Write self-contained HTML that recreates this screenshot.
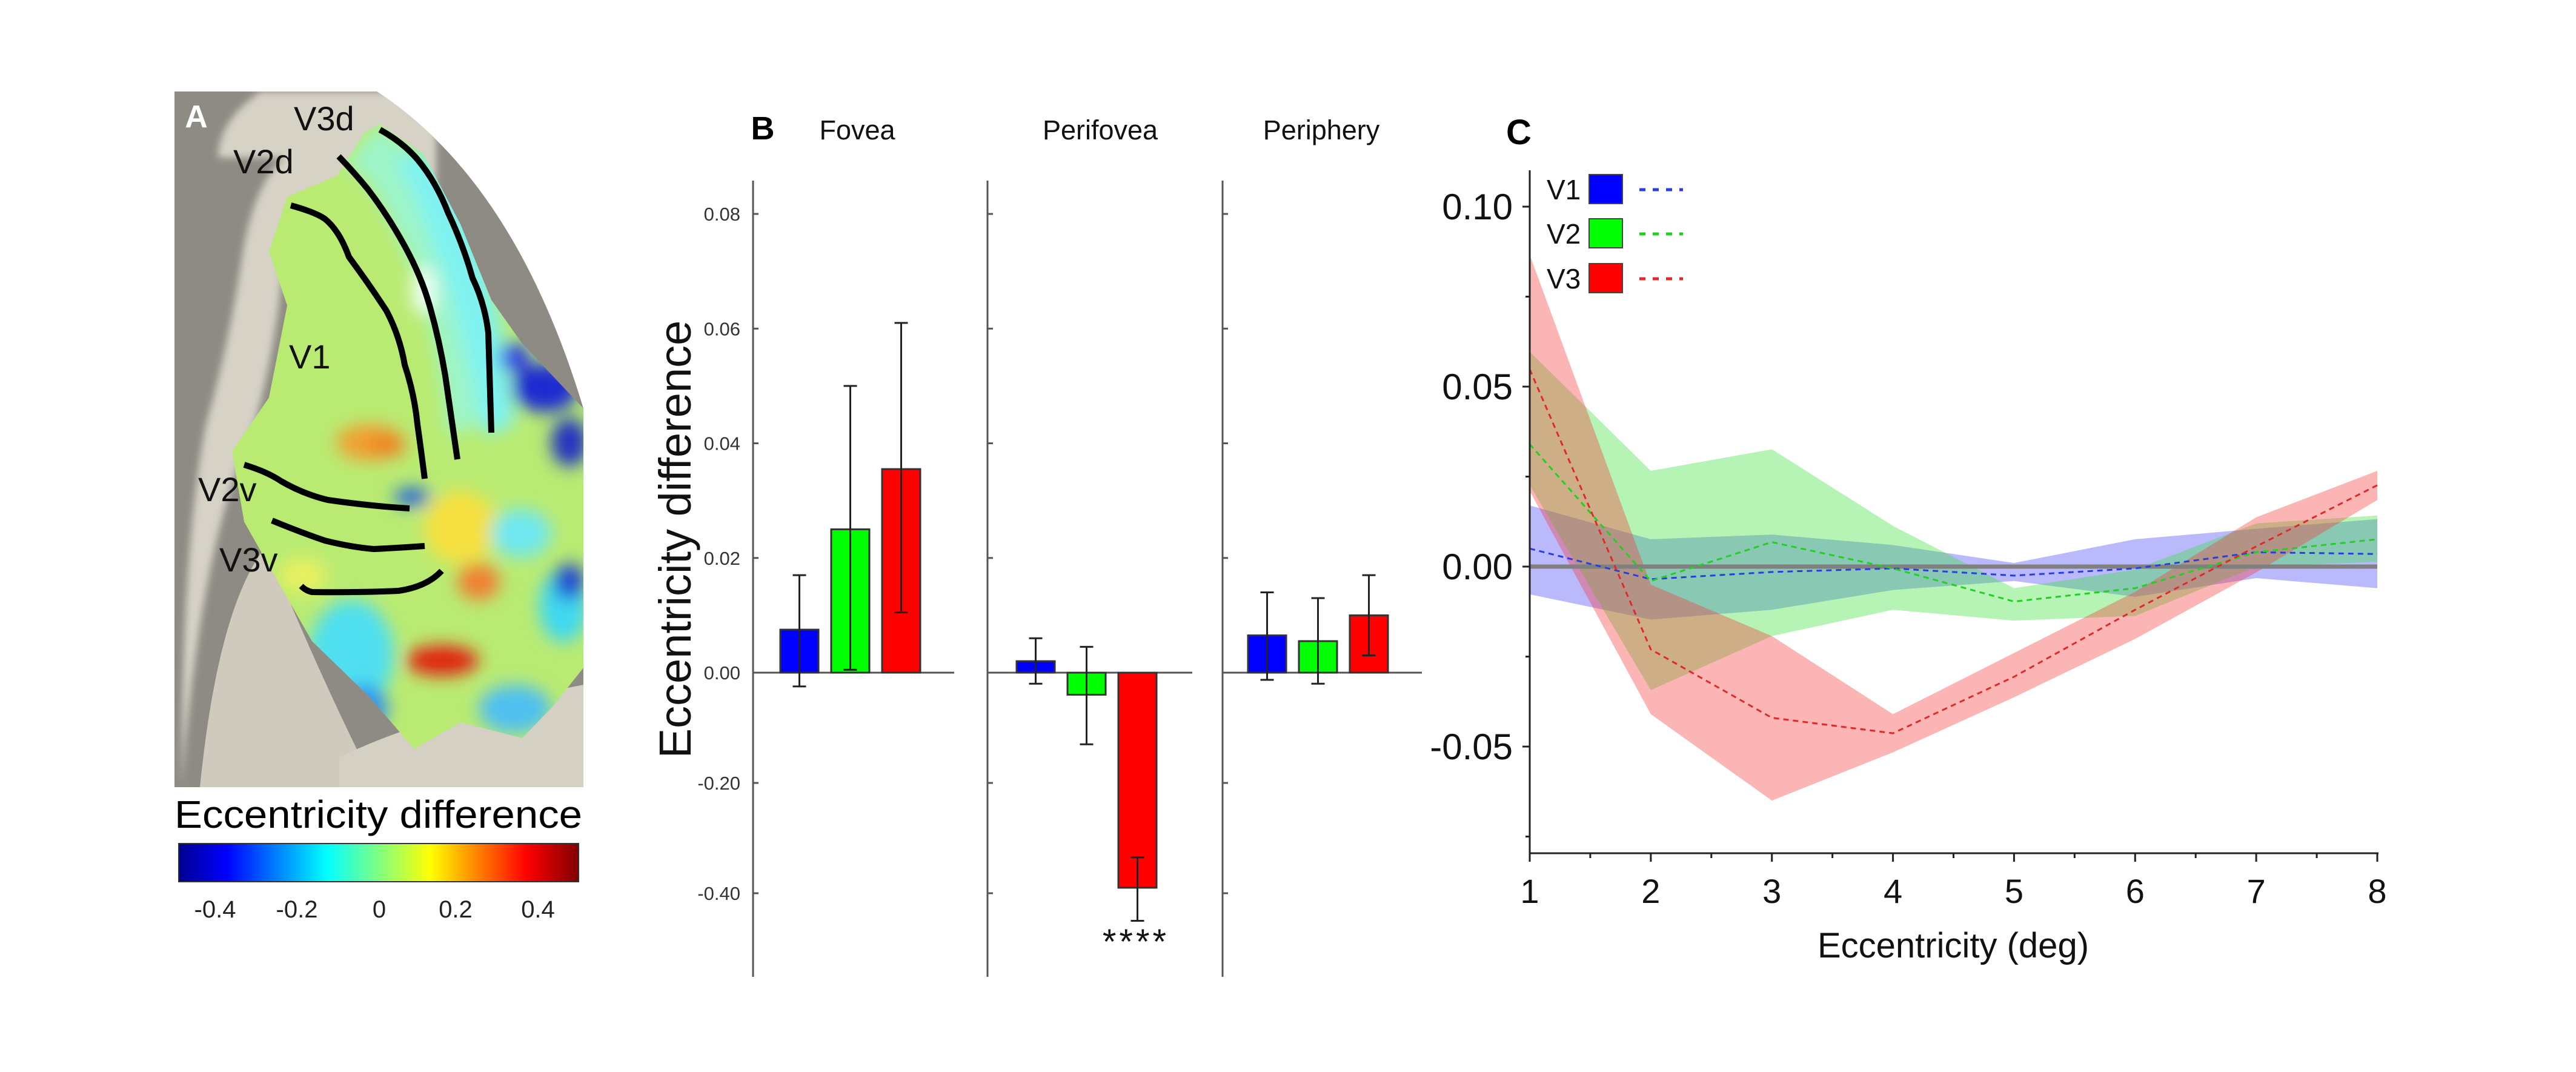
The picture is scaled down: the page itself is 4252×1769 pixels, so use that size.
<!DOCTYPE html>
<html><head><meta charset="utf-8"><style>
html,body{margin:0;padding:0;background:#fff;}
svg{display:block;font-family:"Liberation Sans","DejaVu Sans",sans-serif;}
</style></head><body>
<svg id="fig" width="4252" height="1769" viewBox="0 0 4252 1769" xmlns="http://www.w3.org/2000/svg">
<defs>
<filter id="blur" x="-20%" y="-20%" width="140%" height="140%"><feGaussianBlur stdDeviation="14"/></filter>
<filter id="blur2" x="-20%" y="-20%" width="140%" height="140%"><feGaussianBlur stdDeviation="6"/></filter>
<clipPath id="brainClip"><path d="M288,151 L622,151 Q850,300 963,674 L963,1299 L288,1299 Z"/></clipPath>
<clipPath id="mapClip"><polygon points="474,325 556,290 602,218 627,205 699,254 760,370 811,495 862,567 963,674 963,1102 913,1165 862,1218 760,1192 684,1236 607,1147 515,1058 464,969 403,861 383,745 444,656 474,504 444,415"/></clipPath>
<linearGradient id="jet" x1="0" x2="1" y1="0" y2="0">
<stop offset="0" stop-color="#00008f"/><stop offset="0.12" stop-color="#0000ff"/><stop offset="0.37" stop-color="#00ffff"/><stop offset="0.5" stop-color="#80ff80"/><stop offset="0.63" stop-color="#ffff00"/><stop offset="0.87" stop-color="#ff0000"/><stop offset="1" stop-color="#800000"/>
</linearGradient>
</defs>

<!-- Panel A -->
<g clip-path="url(#brainClip)">
<rect x="288" y="151" width="675" height="1148" fill="#8e8b84"/>
<path d="M300,1299 Q330,900 420,700 Q460,560 470,400 L520,330 Q640,240 720,330 L720,151 L430,151 Q360,200 360,260 L470,260 Q420,300 400,420 Q380,560 340,700 Q300,900 300,1299 Z" fill="#d6d2c6" filter="url(#blur2)"/>
<path d="M330,1299 Q360,1000 440,900 Q520,1100 620,1299 Z" fill="#cfcabd"/>
<path d="M640,151 Q860,300 963,640 L963,560 Q860,280 700,151 Z" fill="#d0ccc0"/>
<path d="M560,1250 Q700,1180 963,1130 L963,1299 L560,1299 Z" fill="#d4d0c4"/>
<g clip-path="url(#mapClip)">
<rect x="380" y="200" width="590" height="1050" fill="#b9eb72"/>
<g filter="url(#blur)">
<path d="M627,205 Q760,300 830,560 L790,700 L740,720 Q720,500 650,380 Q600,260 560,280 Z" fill="#9ef5c8"/>
<path d="M700,250 Q800,360 830,560 L850,700 L800,720 Q760,520 720,420 Q680,300 650,260 Z" fill="#7ff2f0"/>
<ellipse cx="700" cy="480" rx="20" ry="40" fill="#f0fff8"/>
<ellipse cx="900" cy="640" rx="55" ry="40" fill="#1a2ad0"/>
<ellipse cx="850" cy="590" rx="25" ry="25" fill="#3040e0"/>
<ellipse cx="940" cy="730" rx="30" ry="40" fill="#2030c0"/>
<ellipse cx="610" cy="730" rx="55" ry="30" fill="#f0a030"/>
<ellipse cx="640" cy="735" rx="30" ry="18" fill="#f08020"/>
<ellipse cx="760" cy="870" rx="60" ry="60" fill="#f6e040"/>
<ellipse cx="790" cy="960" rx="35" ry="30" fill="#f08030"/>
<ellipse cx="730" cy="1090" rx="60" ry="25" fill="#e02010"/>
<ellipse cx="860" cy="880" rx="50" ry="40" fill="#70e8f0"/>
<ellipse cx="580" cy="1080" rx="70" ry="90" fill="#50dff0"/>
<ellipse cx="600" cy="1170" rx="40" ry="40" fill="#3090f0"/>
<ellipse cx="850" cy="1170" rx="60" ry="40" fill="#50c0f0"/>
<ellipse cx="930" cy="1000" rx="40" ry="60" fill="#40d8f0"/>
<ellipse cx="940" cy="960" rx="25" ry="30" fill="#2040d0"/>
<ellipse cx="500" cy="950" rx="40" ry="30" fill="#e8f060"/>
<ellipse cx="680" cy="820" rx="30" ry="15" fill="#2060e0"/>
</g>
</g>
<g fill="none" stroke="#000" stroke-width="10" stroke-linecap="butt">
<path d="M480,339 Q520,350 536,361 Q560,380 576,424 Q610,470 638,513 Q660,555 668,602 Q684,650 689,700 Q696,750 701,790"/>
<path d="M559,258 Q585,285 607,312 Q640,355 668,406 Q695,455 709,504 Q725,560 735,620 Q745,690 755,758"/>
<path d="M627,214 Q665,235 689,263 Q720,300 740,352 Q765,405 780,459 Q800,500 806,549 L811,714"/>
<path d="M403,767 Q440,778 464,794 Q500,815 541,825 Q610,835 676,839"/>
<path d="M449,859 Q495,878 536,892 Q580,903 617,906 Q660,904 701,901"/>
<path d="M497,967 Q505,975 515,977 Q590,978 658,975 Q705,968 729,942"/>
</g>
</g>
<text x="324" y="210" font-size="52" font-weight="bold" fill="#fff" text-anchor="middle">A</text>
<g font-size="56" fill="#111">
<text x="485" y="215">V3d</text>
<text x="385" y="286">V2d</text>
<text x="477" y="608">V1</text>
<text x="327" y="827">V2v</text>
<text x="362" y="943">V3v</text>
</g>
<text x="288" y="1366" font-size="64" fill="#000" textLength="673" lengthAdjust="spacingAndGlyphs">Eccentricity difference</text>
<rect x="295" y="1392" width="660" height="63" fill="url(#jet)" stroke="#333" stroke-width="2"/>
<g font-size="40" text-anchor="middle" fill="#222">
<text x="355" y="1514">-0.4</text><text x="490" y="1514">-0.2</text><text x="626" y="1514">0</text><text x="752" y="1514">0.2</text><text x="888" y="1514">0.4</text>
</g>

<!-- Panel B -->
<g id="panelB"></g>
<!-- Panel C -->
<g id="panelC"></g>

<script>
// ---------- Panel B data ----------
var bRegions = ["Fovea","Perifovea","Periphery"];
var bSeries = ["V1","V2","V3"];
var bV1 = [0.0075, 0.002, 0.0065];
var bV2 = [0.025, -0.004, 0.0055];
var bV3 = [0.0355, -0.039, 0.010];
var bV1Hi = [0.017, 0.006, 0.014];
var bV1Lo = [-0.0025, -0.002, -0.0013];
var bV2Hi = [0.050, 0.0045, 0.013];
var bV2Lo = [0.0005, -0.013, -0.002];
var bV3Hi = [0.061, -0.0335, 0.017];
var bV3Lo = [0.0105, -0.045, 0.003];
var bTickVals = [0.08, 0.06, 0.04, 0.02, 0, -0.02, -0.04];
var bTickLabels = ["0.08","0.06","0.04","0.02","0.00","-0.20","-0.40"];

// ---------- Panel C data ----------
var cX = [1,2,3,4,5,6,7,8];
var cV1 = [0.005, -0.0035, -0.0015, -0.0005, -0.0025, -0.0005, 0.004, 0.0035];
var cV1Hi = [0.017, 0.0076, 0.0089, 0.006, 0.001, 0.0076, 0.0105, 0.0132];
var cV1Lo = [-0.0077, -0.0147, -0.012, -0.0065, -0.004, -0.0084, -0.0032, -0.006];
var cV2 = [0.034, -0.004, 0.0068, -0.0005, -0.0097, -0.006, 0.004, 0.0076];
var cV2Hi = [0.0597, 0.0266, 0.0326, 0.0113, -0.006, -0.0008, 0.012, 0.0142];
var cV2Lo = [0.0226, -0.0343, -0.0193, -0.012, -0.015, -0.0137, 0.0, 0.0013];
var cV3 = [0.0548, -0.023, -0.042, -0.0463, -0.0306, -0.012, 0.0056, 0.0226];
var cV3Hi = [0.0866, -0.005, -0.0193, -0.041, -0.024, -0.007, 0.0137, 0.0266];
var cV3Lo = [0.021, -0.041, -0.065, -0.0516, -0.0363, -0.0201, -0.0016, 0.0185];
var cYTicks = [0.10, 0.05, 0.00, -0.05];
var cYTickLabels = ["0.10","0.05","0.00","-0.05"];
var cXTickLabels = ["1","2","3","4","5","6","7","8"];
var cLegend = ["V1","V2","V3"];

var NS = "http://www.w3.org/2000/svg";
function mk(parent, tag, attrs, text) {
  var e = document.createElementNS(NS, tag);
  for (var k in attrs) e.setAttribute(k, attrs[k]);
  if (text !== undefined) e.textContent = text;
  parent.appendChild(e);
  return e;
}

// ---------- Draw Panel B ----------
(function(){
  var g = document.getElementById("panelB");
  var zeroY = 1110;
  function y(v){ return v >= 0 ? zeroY - v*9462 : zeroY - v*9100; }
  var axisX = [1243, 1630, 2018];
  var firstBar = [45, 48, 42];
  var baseEnd = [1575, 1968, 2347];
  var bw = 63, step = 84;
  var fills = ["#0000ff","#00ff00","#ff0000"];
  var vals = [bV1, bV2, bV3], his = [bV1Hi, bV2Hi, bV3Hi], los = [bV1Lo, bV2Lo, bV3Lo];
  var t;
  t = mk(g, "text", {x:1259, y:230, "font-size":54, "font-weight":"bold", "text-anchor":"middle"}, "B");
  
  
  var titleX = [1415, 1816, 2181];
  for (var r = 0; r < bRegions.length; r++) {
    t = mk(g, "text", {x:titleX[r], y:230, "font-size":45, "text-anchor":"middle", fill:"#111"}, bRegions[r]);
    
    
    var ax = mk(g, "line", {x1:axisX[r], y1:298, x2:axisX[r], y2:1612, stroke:"#555", "stroke-width":3});
    
    
    for (var i = 0; i < bTickVals.length; i++) {
      var tk = mk(g, "line", {x1:axisX[r], y1:y(bTickVals[i]), x2:axisX[r]+9, y2:y(bTickVals[i]), stroke:"#555", "stroke-width":3});
      
      
      if (r === 0) {
        var tl = mk(g, "text", {x:1222, y:y(bTickVals[i])+11, "font-size":31, "text-anchor":"end", fill:"#333"}, bTickLabels[i]);
        
        
      }
    }
    var bl = mk(g, "line", {x1:axisX[r], y1:zeroY, x2:baseEnd[r], y2:zeroY, stroke:"#555", "stroke-width":3});
    
    
    for (var s = 0; s < 3; s++) {
      var v = vals[s][r];
      var bx = axisX[r] + firstBar[r] + s*step;
      var top = Math.min(y(v), zeroY), h = Math.abs(y(v) - zeroY);
      var bar = mk(g, "rect", {x:bx, y:top, width:bw, height:h, fill:fills[s], stroke:"#333", "stroke-width":3});
      
      
      var cx = bx + bw/2;
      var e1 = mk(g, "path", {d:"M"+cx+","+y(his[s][r])+" L"+cx+","+y(los[s][r])+" M"+(cx-11)+","+y(his[s][r])+" L"+(cx+11)+","+y(his[s][r])+" M"+(cx-11)+","+y(los[s][r])+" L"+(cx+11)+","+y(los[s][r]), stroke:"#222", "stroke-width":3, fill:"none"});
      
      
    }
  }
  t = mk(g, "text", {x:1875, y:1574, "font-size":58, "text-anchor":"middle", fill:"#111", "letter-spacing":"5"}, "****");
  
  
  t = mk(g, "text", {x:0, y:0, "font-size":74, "text-anchor":"middle", fill:"#111", transform:"translate(1140,890) rotate(-90)"}, "Eccentricity difference");
  
  
})();

// ---------- Draw Panel C ----------
(function(){
  var g = document.getElementById("panelC");
  var x0 = 2525, pxX = (3924-2525)/7;
  var zeroY = 935, pxY = 5940;
  function X(v){ return x0 + (v-1)*pxX; }
  function Y(v){ return zeroY - v*pxY; }
  var t;
  t = mk(g, "text", {x:2507, y:238, "font-size":58, "font-weight":"bold", "text-anchor":"middle"}, "C");
  
  

  var bandFill = ["rgba(70,70,245,0.38)","rgba(60,225,60,0.38)","rgba(245,60,60,0.38)"];
  var lineCol = ["#2a3ee0","#22d022","#e02a2a"];
  var means = [cV1, cV2, cV3], his = [cV1Hi, cV2Hi, cV3Hi], los = [cV1Lo, cV2Lo, cV3Lo];
  for (var s = 0; s < 3; s++) {
    var d = "";
    for (var i = 0; i < cX.length; i++) d += (i ? " L" : "M") + X(cX[i]) + "," + Y(his[s][i]);
    for (var j = cX.length-1; j >= 0; j--) d += " L" + X(cX[j]) + "," + Y(los[s][j]);
    var band = mk(g, "path", {d:d+" Z", fill:bandFill[s], stroke:"none"});
    
    
  }
  var zl = mk(g, "line", {x1:x0, y1:Y(0), x2:X(8), y2:Y(0), stroke:"#808080", "stroke-width":7});
  
  
  for (var s2 = 0; s2 < 3; s2++) {
    var pts = [];
    for (var k = 0; k < cX.length; k++) pts.push(X(cX[k]) + "," + Y(means[s2][k]));
    var ln = mk(g, "polyline", {points:pts.join(" "), fill:"none", stroke:lineCol[s2], "stroke-width":3, "stroke-dasharray":"9,7"});
    
    
  }
  var ya = mk(g, "line", {x1:x0, y1:281, x2:x0, y2:1408, stroke:"#222", "stroke-width":3});
  
  
  var xa = mk(g, "line", {x1:x0, y1:1408, x2:X(8)+2, y2:1408, stroke:"#222", "stroke-width":3});
  
  
  for (var i2 = 0; i2 < cYTicks.length; i2++) {
    var yy = Y(cYTicks[i2]);
    var tk = mk(g, "line", {x1:x0-12, y1:yy, x2:x0, y2:yy, stroke:"#222", "stroke-width":3});
    
    
    var mt = mk(g, "line", {x1:x0-7, y1:Y(cYTicks[i2]-0.025), x2:x0, y2:Y(cYTicks[i2]-0.025), stroke:"#222", "stroke-width":3});
    
    
    var tl = mk(g, "text", {x:x0-28, y:yy+21, "font-size":60, "text-anchor":"end", fill:"#111"}, cYTickLabels[i2]);
    
    
  }
  for (var i3 = 0; i3 < cX.length; i3++) {
    var xx = X(cX[i3]);
    var xt = mk(g, "line", {x1:xx, y1:1408, x2:xx, y2:1422, stroke:"#222", "stroke-width":3});
    
    
    if (i3 < cX.length-1) {
      var xm = mk(g, "line", {x1:X(cX[i3]+0.5), y1:1408, x2:X(cX[i3]+0.5), y2:1416, stroke:"#222", "stroke-width":3});
      
      
    }
    var xl = mk(g, "text", {x:xx, y:1490, "font-size":56, "text-anchor":"middle", fill:"#111"}, cXTickLabels[i3]);
    
    
  }
  t = mk(g, "text", {x:3224, y:1580, "font-size":58, "text-anchor":"middle", fill:"#111"}, "Eccentricity (deg)");
  
  
  var swFill = ["#0000ff","#00ff00","#ff0000"];
  var legY = [313, 386, 460];
  for (var l = 0; l < 3; l++) {
    var lt = mk(g, "text", {x:2553, y:legY[l]+16, "font-size":46, fill:"#111"}, cLegend[l]);
    
    
    var sw = mk(g, "rect", {x:2623, y:legY[l]-25, width:55, height:48, fill:swFill[l], stroke:"#444", "stroke-width":2});
    
    
    var dl = mk(g, "line", {x1:2706, y1:legY[l], x2:2778, y2:legY[l], stroke:lineCol[l], "stroke-width":5, "stroke-dasharray":"10,12"});
    
    
  }
})();
</script>
</svg>
</body></html>
